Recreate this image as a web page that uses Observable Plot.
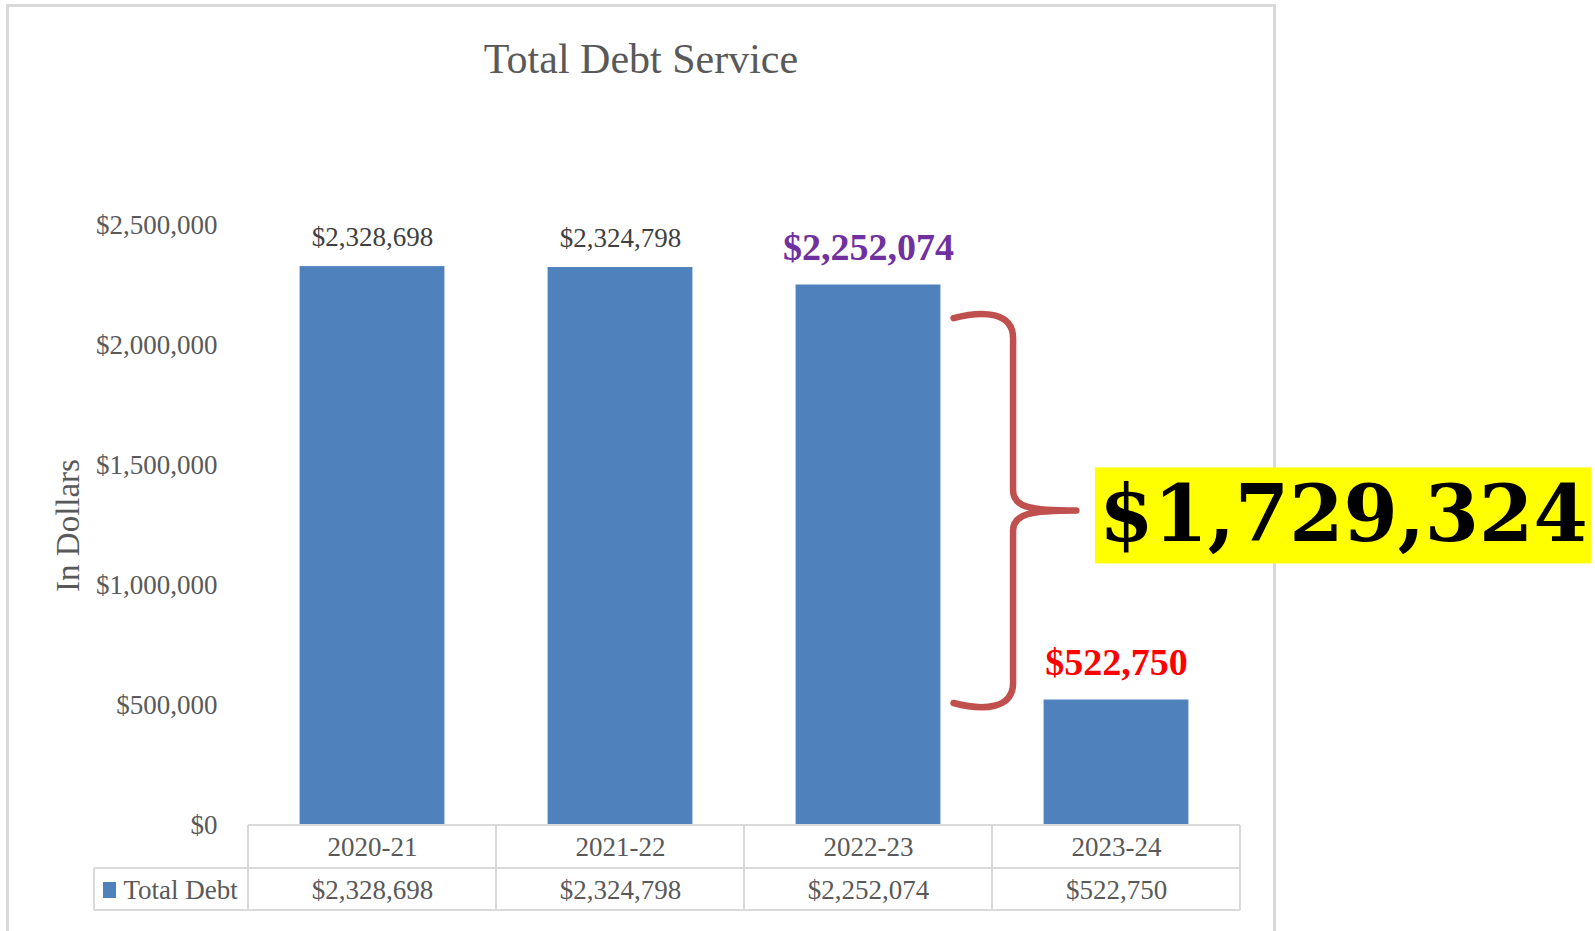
<!DOCTYPE html>
<html><head><meta charset="utf-8">
<script src="https://cdn.jsdelivr.net/npm/d3@7"></script>
<script src="https://cdn.jsdelivr.net/npm/@observablehq/plot@0.6"></script>
<style>
body{margin:0;background:#fff;}
#wrap{position:relative;width:1595px;height:931px;overflow:hidden;font-family:"Liberation Serif","Times New Roman",serif;}
#frame{position:absolute;left:6px;top:4px;width:1270px;height:960px;border:3px solid #d9d9d9;box-sizing:border-box;}
#title{position:absolute;left:8px;width:1266px;top:34px;text-align:center;font-size:42px;line-height:50px;color:#595959;}
#chart{position:absolute;left:0;top:0;}
</style></head>
<body><div id="wrap"><div id="frame"></div><div id="title">Total Debt Service</div><div id="chart"></div></div>
<script>
// ---- data ----
const categories = ["2020-21", "2021-22", "2022-23", "2023-24"];
const totalDebt = [2328698, 2324798, 2252074, 522750];
const yTicks = [0, 500000, 1000000, 1500000, 2000000, 2500000];
const seriesName = "Total Debt";
const axisTitle = "In Dollars";
const braceSpan = [2120000, 500000];   // annotation bracket extent (values)
const diffLabelY = 1290000;            // annotation label level (value)

// ---- build ----
const fmt = d3.format("$,");
const data = categories.map((c, i) => ({c, i, v: totalDebt[i]}));
const diff = totalDebt[2] - totalDebt[3];
const inset = 0.208;
const blue = "#4F81BD";
const gridColor = "#d9d9d9";

function tableMark(index, scales, values, dims) {
  const x = scales.x, y = scales.y;
  const g = d3.create("svg:g").attr("fill", "none").attr("stroke", gridColor).attr("stroke-width", 2);
  const y0 = y(0), y1 = y0 + 43, y2 = y0 + 85;
  const xr = d3.range(categories.length + 1).map(x);
  const left = 94;
  g.append("line").attr("x1", xr[0]).attr("x2", xr[xr.length - 1]).attr("y1", y0).attr("y2", y0);
  g.append("line").attr("x1", left).attr("x2", xr[xr.length - 1]).attr("y1", y1).attr("y2", y1);
  g.append("line").attr("x1", left).attr("x2", xr[xr.length - 1]).attr("y1", y2).attr("y2", y2);
  g.append("line").attr("x1", left).attr("x2", left).attr("y1", y1).attr("y2", y2);
  for (const xv of xr) g.append("line").attr("x1", xv).attr("x2", xv).attr("y1", y0).attr("y2", y2);
  g.append("rect").attr("x", left + 9).attr("y", y1 + 14).attr("width", 13).attr("height", 16)
    .attr("fill", blue).attr("stroke", "none");
  return g.node();
}

function braceMark(index, scales) {
  const x = scales.x, y = scales.y;
  const xL = x(2.845), xM = x(3.085), xT = x(3.34);
  const yTop = y(braceSpan[0]), yBot = y(braceSpan[1]), yMid = (yTop + yBot) / 2;
  const p = `M${xL},${yTop + 2} C${xL + 30},${yTop - 6} ${xM},${yTop - 4} ${xM},${yTop + 22}
    L${xM},${yMid - 20} C${xM},${yMid - 3} ${xM + 18},${yMid} ${xT},${yMid}
    M${xT},${yMid} C${xM + 18},${yMid} ${xM},${yMid + 3} ${xM},${yMid + 20}
    L${xM},${yBot - 22} C${xM},${yBot + 4} ${xL + 30},${yBot + 6} ${xL},${yBot - 2}`;
  const g = d3.create("svg:g");
  g.append("path").attr("d", p).attr("fill", "none").attr("stroke", "#C0504D")
    .attr("stroke-width", 6.5).attr("stroke-linecap", "round").attr("stroke-linejoin", "round");
  return g.node();
}

function boxMark(index, scales) {
  const cx = scales.x(4.415), cy = scales.y(diffLabelY);
  const g = d3.create("svg:g");
  g.append("rect").attr("x", cx - 248).attr("y", cy - 48).attr("width", 496).attr("height", 96).attr("fill", "#FFFF00");
  return g.node();
}

const chart = Plot.plot({
  width: 1595,
  height: 931,
  marginLeft: 248,
  marginRight: 355,
  marginTop: 225,
  marginBottom: 106,
  style: {fontFamily: "'Liberation Serif','Times New Roman',serif", fontSize: "27px", color: "#595959", background: "transparent", overflow: "visible"},
  x: {type: "linear", domain: [0, categories.length], axis: null},
  y: {domain: [0, 2500000], ticks: yTicks, tickFormat: fmt, tickSize: 0, tickPadding: 31, label: null},
  marks: [
    Plot.rectY(data, {x1: d => d.i + inset, x2: d => d.i + 1 - inset, y: "v", fill: blue}),
    tableMark,
    Plot.text(data.filter(d => d.i < 2), {x: d => d.i + 0.5, y: "v", text: d => fmt(d.v), dy: -29, fill: "#404040", fontSize: 27}),
    Plot.text(data.filter(d => d.i === 2), {x: d => d.i + 0.5, y: "v", text: d => fmt(d.v), dy: -37, fill: "#7030A0", fontSize: 38, fontWeight: "bold"}),
    Plot.text(data.filter(d => d.i === 3), {x: d => d.i + 0.5, y: "v", text: d => fmt(d.v), dy: -37, fill: "#FF0000", fontSize: 38, fontWeight: "bold"}),
    Plot.text(data, {x: d => d.i + 0.5, text: "c", frameAnchor: "bottom", dy: 30, fill: "#595959", fontSize: 27}),
    Plot.text(data, {x: d => d.i + 0.5, text: d => fmt(d.v), frameAnchor: "bottom", dy: 73, fill: "#595959", fontSize: 27}),
    Plot.text([seriesName], {frameAnchor: "bottom-left", dx: -125, dy: 73, textAnchor: "start", fill: "#595959", fontSize: 27}),
    Plot.text([axisTitle], {frameAnchor: "left", textAnchor: "middle", dx: -180, dy: 0, rotate: -90, fill: "#595959", fontSize: 33}),
    braceMark,
    boxMark,
    Plot.text([diff], {x: () => 4.415, y: () => diffLabelY, text: d => fmt(d), fontSize: 78, fontWeight: "bold", fontFamily: "'DejaVu Serif',serif", fill: "#000"})
  ]
});
document.getElementById("chart").appendChild(chart);
</script>
</body></html>
